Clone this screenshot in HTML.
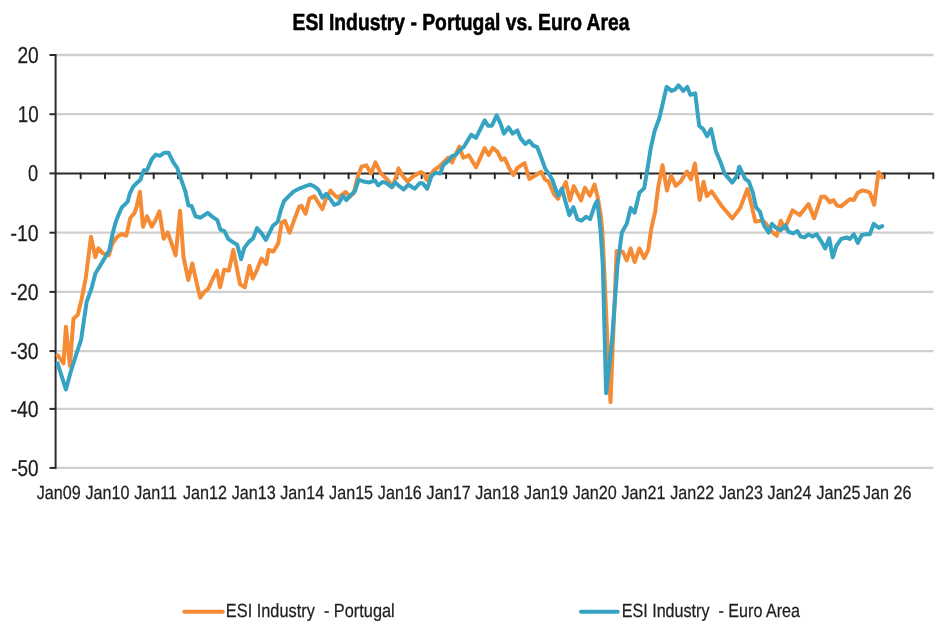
<!DOCTYPE html>
<html><head><meta charset="utf-8"><title>ESI Industry - Portugal vs. Euro Area</title>
<style>
html,body{margin:0;padding:0;background:#fff;width:943px;height:632px;overflow:hidden}
svg{display:block;will-change:transform;filter:blur(0.35px)}
text{text-rendering:geometricPrecision;stroke:#1e1e1e;stroke-width:0.25px;font-family:"Liberation Sans",Arial,sans-serif;fill:#1e1e1e}
</style></head><body>
<svg width="943" height="632" viewBox="0 0 943 632">
<rect width="943" height="632" fill="#fff"/>

<text transform="matrix(0.8282 0 0 1 292.51 30.30)" font-size="23.3" font-weight="bold" style="fill:#000;stroke:#000;stroke-width:0.55px">ESI Industry - Portugal vs. Euro Area</text>
<line x1="56.5" y1="55.0" x2="933.5" y2="55.0" stroke="#cfcfcf" stroke-width="2.3"/>
<line x1="56.5" y1="114.2" x2="933.5" y2="114.2" stroke="#cfcfcf" stroke-width="2.3"/>
<line x1="56.5" y1="232.7" x2="933.5" y2="232.7" stroke="#cfcfcf" stroke-width="2.3"/>
<line x1="56.5" y1="291.9" x2="933.5" y2="291.9" stroke="#cfcfcf" stroke-width="2.3"/>
<line x1="56.5" y1="351.1" x2="933.5" y2="351.1" stroke="#cfcfcf" stroke-width="2.3"/>
<line x1="56.5" y1="408.9" x2="933.5" y2="408.9" stroke="#cfcfcf" stroke-width="2.3"/>
<line x1="56.5" y1="467.9" x2="933.5" y2="467.9" stroke="#cfcfcf" stroke-width="2.3"/>
<line x1="49.5" y1="55.0" x2="56" y2="55.0" stroke="#2b2b2b" stroke-width="2.0"/>
<line x1="49.5" y1="114.2" x2="56" y2="114.2" stroke="#2b2b2b" stroke-width="2.0"/>
<line x1="49.5" y1="173.4" x2="56" y2="173.4" stroke="#2b2b2b" stroke-width="2.0"/>
<line x1="49.5" y1="232.7" x2="56" y2="232.7" stroke="#2b2b2b" stroke-width="2.0"/>
<line x1="49.5" y1="291.9" x2="56" y2="291.9" stroke="#2b2b2b" stroke-width="2.0"/>
<line x1="49.5" y1="351.1" x2="56" y2="351.1" stroke="#2b2b2b" stroke-width="2.0"/>
<line x1="49.5" y1="408.9" x2="56" y2="408.9" stroke="#2b2b2b" stroke-width="2.0"/>
<line x1="49.5" y1="467.9" x2="56" y2="467.9" stroke="#2b2b2b" stroke-width="2.0"/>
<line x1="55.6" y1="54.0" x2="55.6" y2="468.9" stroke="#2b2b2b" stroke-width="2.0"/>
<line x1="55" y1="173.4" x2="934" y2="173.4" stroke="#2b2b2b" stroke-width="2.0"/>
<line x1="80.7" y1="173.4" x2="80.7" y2="178.2" stroke="#2b2b2b" stroke-width="2.0" stroke-linecap="round"/>
<line x1="105.0" y1="173.4" x2="105.0" y2="178.2" stroke="#2b2b2b" stroke-width="2.0" stroke-linecap="round"/>
<line x1="129.4" y1="173.4" x2="129.4" y2="178.2" stroke="#2b2b2b" stroke-width="2.0" stroke-linecap="round"/>
<line x1="153.7" y1="173.4" x2="153.7" y2="178.2" stroke="#2b2b2b" stroke-width="2.0" stroke-linecap="round"/>
<line x1="178.1" y1="173.4" x2="178.1" y2="178.2" stroke="#2b2b2b" stroke-width="2.0" stroke-linecap="round"/>
<line x1="202.5" y1="173.4" x2="202.5" y2="178.2" stroke="#2b2b2b" stroke-width="2.0" stroke-linecap="round"/>
<line x1="226.8" y1="173.4" x2="226.8" y2="178.2" stroke="#2b2b2b" stroke-width="2.0" stroke-linecap="round"/>
<line x1="251.2" y1="173.4" x2="251.2" y2="178.2" stroke="#2b2b2b" stroke-width="2.0" stroke-linecap="round"/>
<line x1="275.5" y1="173.4" x2="275.5" y2="178.2" stroke="#2b2b2b" stroke-width="2.0" stroke-linecap="round"/>
<line x1="299.9" y1="173.4" x2="299.9" y2="178.2" stroke="#2b2b2b" stroke-width="2.0" stroke-linecap="round"/>
<line x1="324.3" y1="173.4" x2="324.3" y2="178.2" stroke="#2b2b2b" stroke-width="2.0" stroke-linecap="round"/>
<line x1="348.6" y1="173.4" x2="348.6" y2="178.2" stroke="#2b2b2b" stroke-width="2.0" stroke-linecap="round"/>
<line x1="373.0" y1="173.4" x2="373.0" y2="178.2" stroke="#2b2b2b" stroke-width="2.0" stroke-linecap="round"/>
<line x1="397.3" y1="173.4" x2="397.3" y2="178.2" stroke="#2b2b2b" stroke-width="2.0" stroke-linecap="round"/>
<line x1="421.7" y1="173.4" x2="421.7" y2="178.2" stroke="#2b2b2b" stroke-width="2.0" stroke-linecap="round"/>
<line x1="446.1" y1="173.4" x2="446.1" y2="178.2" stroke="#2b2b2b" stroke-width="2.0" stroke-linecap="round"/>
<line x1="470.4" y1="173.4" x2="470.4" y2="178.2" stroke="#2b2b2b" stroke-width="2.0" stroke-linecap="round"/>
<line x1="494.8" y1="173.4" x2="494.8" y2="178.2" stroke="#2b2b2b" stroke-width="2.0" stroke-linecap="round"/>
<line x1="519.1" y1="173.4" x2="519.1" y2="178.2" stroke="#2b2b2b" stroke-width="2.0" stroke-linecap="round"/>
<line x1="543.5" y1="173.4" x2="543.5" y2="178.2" stroke="#2b2b2b" stroke-width="2.0" stroke-linecap="round"/>
<line x1="567.9" y1="173.4" x2="567.9" y2="178.2" stroke="#2b2b2b" stroke-width="2.0" stroke-linecap="round"/>
<line x1="592.2" y1="173.4" x2="592.2" y2="178.2" stroke="#2b2b2b" stroke-width="2.0" stroke-linecap="round"/>
<line x1="616.6" y1="173.4" x2="616.6" y2="178.2" stroke="#2b2b2b" stroke-width="2.0" stroke-linecap="round"/>
<line x1="640.9" y1="173.4" x2="640.9" y2="178.2" stroke="#2b2b2b" stroke-width="2.0" stroke-linecap="round"/>
<line x1="665.3" y1="173.4" x2="665.3" y2="178.2" stroke="#2b2b2b" stroke-width="2.0" stroke-linecap="round"/>
<line x1="689.7" y1="173.4" x2="689.7" y2="178.2" stroke="#2b2b2b" stroke-width="2.0" stroke-linecap="round"/>
<line x1="714.0" y1="173.4" x2="714.0" y2="178.2" stroke="#2b2b2b" stroke-width="2.0" stroke-linecap="round"/>
<line x1="738.4" y1="173.4" x2="738.4" y2="178.2" stroke="#2b2b2b" stroke-width="2.0" stroke-linecap="round"/>
<line x1="762.7" y1="173.4" x2="762.7" y2="178.2" stroke="#2b2b2b" stroke-width="2.0" stroke-linecap="round"/>
<line x1="787.1" y1="173.4" x2="787.1" y2="178.2" stroke="#2b2b2b" stroke-width="2.0" stroke-linecap="round"/>
<line x1="811.5" y1="173.4" x2="811.5" y2="178.2" stroke="#2b2b2b" stroke-width="2.0" stroke-linecap="round"/>
<line x1="835.8" y1="173.4" x2="835.8" y2="178.2" stroke="#2b2b2b" stroke-width="2.0" stroke-linecap="round"/>
<line x1="860.2" y1="173.4" x2="860.2" y2="178.2" stroke="#2b2b2b" stroke-width="2.0" stroke-linecap="round"/>
<line x1="884.5" y1="173.4" x2="884.5" y2="178.2" stroke="#2b2b2b" stroke-width="2.0" stroke-linecap="round"/>
<line x1="908.9" y1="173.4" x2="908.9" y2="178.2" stroke="#2b2b2b" stroke-width="2.0" stroke-linecap="round"/>
<line x1="933.3" y1="173.4" x2="933.3" y2="178.2" stroke="#2b2b2b" stroke-width="2.0" stroke-linecap="round"/>
<text transform="matrix(0.8331 0 0 1 17.44 63.20)" font-size="23.0">20</text>
<text transform="matrix(0.8154 0 0 1 17.77 122.36)" font-size="23.0">10</text>
<text transform="matrix(0.7913 0 0 1 27.89 181.30)" font-size="23.0">0</text>
<text transform="matrix(0.8450 0 0 1 10.57 240.86)" font-size="23.0">-10</text>
<text transform="matrix(0.8450 0 0 1 10.57 300.06)" font-size="23.0">-20</text>
<text transform="matrix(0.8450 0 0 1 10.57 359.30)" font-size="23.0">-30</text>
<text transform="matrix(0.8450 0 0 1 10.57 417.10)" font-size="23.0">-40</text>
<text transform="matrix(0.8237 0 0 1 11.26 476.10)" font-size="23.0">-50</text>
<text transform="matrix(0.8500 0 0 1 36.76 498.60)" font-size="19.0">Jan09</text>
<text transform="matrix(0.8500 0 0 1 85.42 498.60)" font-size="19.0">Jan10</text>
<text transform="matrix(0.8500 0 0 1 134.23 498.60)" font-size="19.0">Jan11</text>
<text transform="matrix(0.8500 0 0 1 182.97 498.60)" font-size="19.0">Jan12</text>
<text transform="matrix(0.8500 0 0 1 231.65 498.60)" font-size="19.0">Jan13</text>
<text transform="matrix(0.8500 0 0 1 280.26 498.60)" font-size="19.0">Jan14</text>
<text transform="matrix(0.8500 0 0 1 329.09 498.60)" font-size="19.0">Jan15</text>
<text transform="matrix(0.8500 0 0 1 377.84 498.60)" font-size="19.0">Jan16</text>
<text transform="matrix(0.8500 0 0 1 426.62 498.60)" font-size="19.0">Jan17</text>
<text transform="matrix(0.8500 0 0 1 475.29 498.60)" font-size="19.0">Jan18</text>
<text transform="matrix(0.8500 0 0 1 524.06 498.60)" font-size="19.0">Jan19</text>
<text transform="matrix(0.8500 0 0 1 572.72 498.60)" font-size="19.0">Jan20</text>
<text transform="matrix(0.8500 0 0 1 621.53 498.60)" font-size="19.0">Jan21</text>
<text transform="matrix(0.8500 0 0 1 670.27 498.60)" font-size="19.0">Jan22</text>
<text transform="matrix(0.8500 0 0 1 718.95 498.60)" font-size="19.0">Jan23</text>
<text transform="matrix(0.8500 0 0 1 767.56 498.60)" font-size="19.0">Jan24</text>
<text transform="matrix(0.8500 0 0 1 816.39 498.60)" font-size="19.0">Jan25</text>
<text transform="matrix(0.8500 0 0 1 862.89 498.60)" font-size="19.0">Jan 26</text>
<polyline points="57.6,355.3 63.5,363.3 65.9,326.7 69.9,365.7 73.5,318.7 77.8,314.8 81.8,298.4 85.8,277.7 91.0,236.7 95.3,257.0 98.5,248.3 102.5,253.1 108.9,255.4 112.0,244.3 116.8,237.2 121.6,234.0 126.3,235.6 130.3,218.0 134.3,213.2 136.7,206.8 139.9,191.7 143.0,226.7 147.0,216.3 151.8,226.7 155.8,219.5 159.4,211.3 163.7,238.7 167.7,232.4 175.7,255.4 180.1,210.8 183.5,257.0 188.3,280.1 192.3,263.4 196.2,280.9 200.2,297.6 204.2,292.0 208.2,288.9 212.9,278.5 216.9,270.6 220.1,287.3 224.1,269.8 228.9,270.6 233.3,249.9 236.8,268.2 240.0,284.1 244.8,287.3 249.5,265.8 252.7,278.5 256.7,270.6 261.5,258.6 266.2,264.2 268.6,249.9 273.4,251.5 278.2,243.5 281.7,222.5 284.9,220.9 289.6,232.8 294.4,219.3 299.2,206.6 301.6,205.8 305.5,213.7 309.5,198.6 314.3,196.2 322.4,209.2 325.7,199.6 330.5,190.6 334.3,194.9 337.7,197.7 345.8,192.0 349.6,196.8 353.9,193.0 357.7,176.7 361.5,166.7 366.3,165.3 371.1,173.4 375.4,162.4 380.6,172.9 387.3,179.6 393.0,186.5 398.5,168.5 402.8,176.0 407.6,181.6 412.4,176.8 417.9,173.6 421.1,172.0 424.3,174.4 426.7,180.0 433.8,170.4 439.4,166.5 445.0,160.9 448.2,157.7 452.1,162.5 459.3,146.6 463.3,157.7 468.8,155.3 476.0,167.3 484.7,148.2 488.7,155.1 492.7,147.9 497.5,151.9 501.5,159.9 504.7,158.3 509.4,168.6 513.4,175.0 517.4,167.8 524.5,163.1 529.3,179.0 534.9,175.8 541.2,171.8 545.2,179.8 548.4,181.3 554.0,194.1 557.9,198.8 561.0,192.0 565.9,182.1 569.9,200.4 573.8,186.1 581.0,200.4 585.0,187.7 589.8,195.7 594.5,184.5 597.7,197.3 600.6,214.0 602.4,232.0 604.0,265.0 607.3,340.0 610.5,402.1 613.0,340.0 614.9,295.6 616.6,250.9 622.7,251.7 626.7,260.4 630.7,248.5 634.6,262.0 639.4,248.5 644.2,258.0 648.2,250.1 651.3,228.6 655.1,212.0 658.3,186.6 662.5,165.1 667.0,190.6 671.0,175.4 675.8,185.8 680.6,181.8 686.9,171.5 690.9,179.4 694.9,163.5 699.6,200.1 703.6,181.8 706.8,196.1 711.6,191.4 722.7,207.3 732.3,218.4 740.2,208.1 747.4,189.0 751.3,204.1 755.3,221.6 760.9,220.8 764.8,222.3 771.9,231.8 776.7,235.8 780.7,220.7 784.7,228.6 792.6,210.3 799.8,215.1 808.5,204.0 814.1,218.3 821.2,196.8 825.2,196.8 830.0,202.4 833.2,200.0 837.1,205.6 841.1,206.4 845.9,202.4 849.9,199.2 853.8,200.0 857.8,192.8 862.6,190.4 866.6,191.2 869.8,192.8 874.2,204.8 878.5,172.2 882.2,177.7" fill="none" stroke="#f58b35" stroke-width="4.0" stroke-linejoin="round" stroke-linecap="round"/>
<polyline points="57.6,363.3 61.9,376.8 65.9,389.5 70.7,372.0 76.2,354.5 81.0,340.2 84.0,320.0 86.6,302.0 91.4,288.9 95.3,273.7 102.5,261.8 109.4,250.0 112.7,233.2 115.6,222.5 118.3,215.4 121.6,207.7 125.5,203.8 127.7,201.6 129.9,193.3 133.2,186.6 137.1,182.8 140.2,180.0 142.3,174.2 143.8,170.2 147.0,170.2 151.8,159.1 155.8,154.6 159.8,155.9 164.5,152.7 168.5,152.7 173.3,162.3 177.2,167.8 180.4,177.4 185.2,190.9 188.4,205.2 191.6,206.0 195.5,216.3 200.6,217.7 207.7,212.9 212.5,216.9 217.3,220.1 220.4,229.6 224.4,231.2 228.4,239.2 233.2,242.4 237.2,244.8 241.1,259.1 244.3,247.9 249.1,241.6 253.1,238.4 257.0,228.1 261.8,233.6 265.8,240.0 269.0,233.6 272.9,225.7 277.7,221.7 280.9,209.8 284.1,201.0 288.8,196.2 293.6,191.5 300.0,188.3 306.3,185.9 310.3,184.6 314.8,186.7 318.6,190.1 322.4,197.7 326.2,193.9 330.0,198.7 334.3,204.9 338.6,203.4 342.9,195.8 346.3,200.1 351.0,194.9 354.9,191.0 358.7,179.6 363.4,181.5 369.2,182.4 374.9,180.5 378.2,185.3 382.5,182.0 386.3,182.9 391.6,187.2 394.9,182.4 400.0,186.7 403.6,189.5 408.4,184.8 414.8,188.7 419.5,183.2 422.7,183.2 427.2,188.7 431.5,176.0 435.4,172.8 440.2,173.6 443.4,164.9 448.2,160.9 452.1,156.1 456.1,154.5 460.1,149.8 464.1,146.6 471.2,134.7 476.0,137.8 484.7,120.3 488.0,125.7 491.9,125.7 496.7,115.3 500.7,124.1 503.9,133.6 508.6,127.3 512.6,133.6 517.4,130.4 520.6,138.4 525.3,144.0 529.3,140.8 533.3,145.6 537.3,147.2 541.2,157.5 545.2,168.6 548.4,173.4 552.4,179.8 557.9,195.7 561.9,188.5 565.1,200.4 569.4,215.1 573.4,207.2 577.4,219.1 581.4,220.7 586.1,216.7 590.1,219.1 594.9,204.8 597.3,200.8 600.4,228.6 602.8,265.0 606.1,393.2 612.0,340.0 614.4,307.5 617.5,265.0 621.9,232.5 626.7,223.9 630.7,207.9 634.6,212.7 639.4,192.8 644.2,188.1 647.2,170.7 650.7,148.2 654.7,130.7 659.4,118.0 666.6,86.9 671.4,90.9 675.3,89.3 678.5,85.3 683.3,90.9 687.3,86.9 690.4,94.9 695.2,93.3 699.2,125.9 703.2,129.1 707.1,136.2 711.1,129.1 715.9,151.3 720.7,162.5 724.6,173.6 732.3,182.6 736.2,177.0 739.4,166.7 745.0,178.6 749.0,181.8 752.9,192.9 756.1,207.3 760.0,211.9 764.0,225.4 768.7,232.6 771.9,223.9 775.9,227.8 780.7,230.2 785.4,225.4 788.6,231.8 793.4,233.4 797.4,231.0 800.6,236.6 804.5,237.4 808.5,234.2 812.5,236.6 816.5,234.2 821.2,241.3 825.2,248.5 829.2,238.2 832.7,257.3 836.3,246.1 841.1,239.0 846.7,237.4 849.9,239.0 853.8,234.2 857.8,242.9 861.8,235.0 865.8,234.2 869.8,234.2 873.7,223.9 878.5,227.8 882.2,226.2" fill="none" stroke="#36a3c3" stroke-width="4.0" stroke-linejoin="round" stroke-linecap="round"/>
<line x1="184.3" y1="611.75" x2="222.7" y2="611.75" stroke="#f58b35" stroke-width="4.2" stroke-linecap="round"/>
<text transform="matrix(0.8595 0 0 1 225.86 617.00)" font-size="19">ESI Industry &#160;- Portugal</text>
<line x1="581.1" y1="611.75" x2="617.7" y2="611.75" stroke="#36a3c3" stroke-width="4.2" stroke-linecap="round"/>
<text transform="matrix(0.8486 0 0 1 621.68 617.00)" font-size="19">ESI Industry &#160;- Euro Area</text>
</svg>
</body></html>
